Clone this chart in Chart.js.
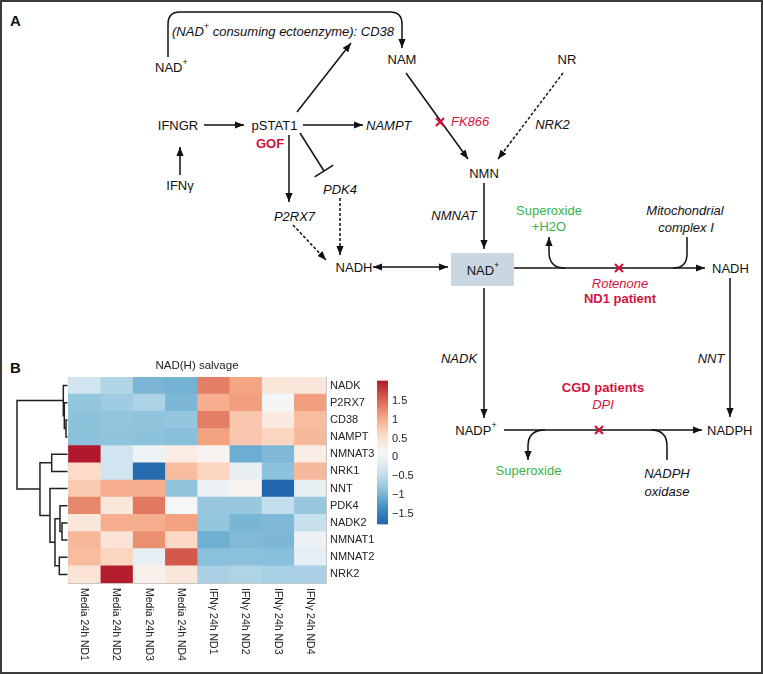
<!DOCTYPE html>
<html><head><meta charset="utf-8">
<script src="https://cdn.jsdelivr.net/npm/chart.js@4.4.1/dist/chart.umd.min.js"></script>
<style>
html,body{margin:0;padding:0;background:#fff;width:763px;height:675px;overflow:hidden;}
#frame{position:absolute;left:0;top:0;width:763px;height:674px;box-sizing:border-box;border:2px solid #3a3a3a;}
canvas{position:absolute;}
svg{position:absolute;left:0;top:0;}
svg text{font-family:"Liberation Sans",Arial,sans-serif;font-size:13px;fill:#111;dominant-baseline:central;}
svg .it{font-style:italic}
svg .red{fill:#d3133f}
svg .grn{fill:#35b34a}
svg .b{font-weight:bold}
svg .lbl{font-size:15px;font-weight:bold}
</style></head>
<body>
<div id="frame"></div>
<svg width="763" height="675">
<defs>
<marker id="ah" viewBox="0 0 10 8" refX="10" refY="4" markerWidth="9" markerHeight="7.2" markerUnits="userSpaceOnUse" orient="auto-start-reverse"><path d="M0,0 L10,4 L0,8 z" fill="#111"/></marker>
</defs>
<g fill="none" stroke="#111" stroke-width="1.5">
<path d="M168,57 V24 Q168,12 180,12 H390 Q402,12 402,24 V48" marker-end="url(#ah)"/>
<line x1="204" y1="125" x2="244" y2="125" marker-end="url(#ah)"/>
<line x1="303" y1="125" x2="363" y2="125" marker-end="url(#ah)"/>
<line x1="297" y1="112" x2="351" y2="43" marker-end="url(#ah)"/>
<line x1="300" y1="133" x2="324" y2="171"/>
<line x1="314.7" y1="176.9" x2="333.3" y2="165.1"/>
<line x1="289" y1="135" x2="289" y2="202" marker-end="url(#ah)"/>
<line x1="293" y1="225" x2="326" y2="260" stroke-dasharray="3,2" marker-end="url(#ah)"/>
<line x1="340" y1="198" x2="340" y2="255" stroke-dasharray="3,2" marker-end="url(#ah)"/>
<line x1="373" y1="267" x2="448" y2="267" marker-start="url(#ah)" marker-end="url(#ah)"/>
<line x1="514" y1="268" x2="705" y2="268" marker-end="url(#ah)"/>
<path d="M565,268 Q549,268 549,252 V237" marker-end="url(#ah)"/>
<path d="M687,237 V254 Q687,268 673,268"/>
<line x1="406" y1="73" x2="468" y2="159" marker-end="url(#ah)"/>
<line x1="563" y1="73" x2="498" y2="159" stroke-dasharray="3,2" marker-end="url(#ah)"/>
<line x1="484" y1="183" x2="484" y2="249" marker-end="url(#ah)"/>
<line x1="484" y1="288" x2="484" y2="418" marker-end="url(#ah)"/>
<line x1="504" y1="430" x2="702" y2="430" marker-end="url(#ah)"/>
<line x1="730" y1="278" x2="730" y2="417" marker-end="url(#ah)"/>
<path d="M545,430 Q528,430 528,446 V460" marker-end="url(#ah)"/>
<path d="M667,460 V446 Q667,430 651,430"/>
<line x1="180" y1="175" x2="180" y2="147" marker-end="url(#ah)"/>
</g>
<g stroke="#d3133f" stroke-width="2.2" fill="none">
<path d="M615,264 L623,272 M623,264 L615,272"/>
<path d="M436,118 L444,126 M444,118 L436,126"/>
<path d="M595,426 L603,434 M603,426 L595,434"/>
</g>
<rect x="451" y="253" width="63" height="33" fill="#c9d7e3"/>
<text class="lbl" x="10" y="20">A</text>
<text class="lbl" x="10" y="367">B</text>
<text class="it" x="172" y="31">(NAD<tspan font-size="9" dy="-5">+</tspan><tspan dy="5"> consuming ectoenzyme): CD38</tspan></text>
<text x="155" y="67">NAD<tspan font-size="9" dy="-5">+</tspan></text>
<text x="402" y="59" text-anchor="middle">NAM</text>
<text x="567" y="59" text-anchor="middle">NR</text>
<text x="178" y="125" text-anchor="middle">IFNGR</text>
<text x="274.5" y="125" text-anchor="middle">pSTAT1</text>
<text class="b red" x="270" y="143" text-anchor="middle">GOF</text>
<text class="it" x="366" y="125">NAMPT</text>
<text class="it" x="340" y="189" text-anchor="middle">PDK4</text>
<text class="it" x="294.5" y="216" text-anchor="middle">P2RX7</text>
<text x="354" y="267" text-anchor="middle">NADH</text>
<text x="483" y="270" text-anchor="middle">NAD<tspan font-size="9" dy="-5">+</tspan></text>
<text class="grn" x="549" y="210" text-anchor="middle">Superoxide</text>
<text class="grn" x="549" y="226" text-anchor="middle">+H2O</text>
<text class="it" x="685" y="210" text-anchor="middle">Mitochondrial</text>
<text class="it" x="686" y="227" text-anchor="middle">complex I</text>
<text x="712" y="268">NADH</text>
<text class="it red" x="620" y="283" text-anchor="middle">Rotenone</text>
<text class="b red" x="620" y="298" text-anchor="middle">ND1 patient</text>
<text class="it red" x="451" y="121">FK866</text>
<text class="it" x="552.5" y="124" text-anchor="middle">NRK2</text>
<text x="484" y="173" text-anchor="middle">NMN</text>
<text class="it" x="454" y="215" text-anchor="middle">NMNAT</text>
<text class="it" x="459" y="358" text-anchor="middle">NADK</text>
<text x="476" y="430" text-anchor="middle">NADP<tspan font-size="9" dy="-5">+</tspan></text>
<text x="707" y="430">NADPH</text>
<text class="it" x="711" y="358" text-anchor="middle">NNT</text>
<text class="b red" x="603" y="387" text-anchor="middle">CGD patients</text>
<text class="it red" x="603" y="404" text-anchor="middle">DPI</text>
<text class="grn" x="528.5" y="470" text-anchor="middle">Superoxide</text>
<text class="it" x="667" y="473" text-anchor="middle">NADPH</text>
<text class="it" x="667" y="491" text-anchor="middle">oxidase</text>
<text x="180" y="185" text-anchor="middle">IFNγ</text>
</svg>
<canvas id="dendro" width="60" height="216" style="left:12px;top:372px;"></canvas>
<canvas id="heat" width="330" height="320" style="left:60px;top:355px;"></canvas>
<canvas id="cbar" width="62" height="165" style="left:370px;top:370px;"></canvas>
<script>
// ---------- data ----------
const heatTitle = 'NAD(H) salvage';
const genes = ['NADK','P2RX7','CD38','NAMPT','NMNAT3','NRK1','NNT','PDK4','NADK2','NMNAT1','NMNAT2','NRK2'];
const samples = ['Media 24h ND1','Media 24h ND2','Media 24h ND3','Media 24h ND4','IFNγ 24h ND1','IFNγ 24h ND2','IFNγ 24h ND3','IFNγ 24h ND4'];
const zNADK   = [-0.35,-0.58,-0.96,-1.00, 1.34, 1.08, 0.42, 0.40];
const zP2RX7  = [-0.82,-0.72,-0.62,-0.95, 1.00, 1.12, 0.08, 1.12];
const zCD38   = [-0.85,-0.82,-0.83,-0.80, 1.35, 0.78, 0.35, 0.88];
const zNAMPT  = [-0.85,-0.83,-0.85,-0.88, 1.10, 0.78, 0.65, 0.90];
const zNMNAT3 = [ 2.03,-0.35, 0.00, 0.33, 0.20,-1.05,-0.93, 0.30];
const zNRK1   = [ 0.60,-0.35,-1.70, 0.88, 0.65,-0.05,-0.85, 0.90];
const zNNT    = [ 0.75, 1.00, 1.00,-0.83,-0.02, 0.20,-1.77,-0.05];
const zPDK4   = [ 1.28, 0.40, 1.38, 0.10,-0.78,-0.78,-0.45,-0.78];
const zNADK2  = [ 0.40, 1.00, 1.00, 1.10,-0.80,-0.97,-0.93,-0.42];
const zNMNAT1 = [ 0.92, 0.45, 1.22, 0.62,-1.03,-0.92,-0.95,-0.02];
const zNMNAT2 = [ 0.88, 0.65,-0.07, 1.60,-0.87,-0.87,-0.88,-0.10];
const zNRK2   = [ 0.45, 2.00, 0.25, 0.40,-0.65,-0.60,-0.66,-0.65];
const heatRows = [zNADK,zP2RX7,zCD38,zNAMPT,zNMNAT3,zNRK1,zNNT,zPDK4,zNADK2,zNMNAT1,zNMNAT2,zNRK2];
const cbMin = -1.77, cbMax = 2.03;
const cbTicks = [-1.5,-1,-0.5,0,0.5,1,1.5];
// dendrogram (rows): leaves 0..11, merge k gets id 12+k
const mergeLeft   = [2, 1, 0, 4, 8, 7, 10, 17, 6, 15, 14];
const mergeRight  = [3, 12, 13, 5, 9, 16, 11, 18, 19, 20, 21];
const mergeHeight = [0.30, 0.63, 0.83, 3.13, 1.09, 1.49, 1.62, 2.48, 3.47, 5.45, 10.0];

// ---------- style ----------
const FONT = '"Liberation Sans", Arial, sans-serif';
Chart.defaults.font.family = FONT;
Chart.defaults.color = '#222';
const palette = ['#2166ac','#4393c3','#92c5de','#d1e5f0','#f7f7f7','#fddbc7','#f4a582','#d6604d','#b2182b'];
function hex2rgb(h){return [1,3,5].map(i=>parseInt(h.substr(i,2),16));}
function colorFor(v){
  let t=(v-cbMin)/(cbMax-cbMin); t=Math.max(0,Math.min(1,t));
  const p=t*(palette.length-1); const i=Math.min(Math.floor(p),palette.length-2); const f=p-i;
  const a=hex2rgb(palette[i]), b=hex2rgb(palette[i+1]);
  const c=a.map((x,k)=>Math.round(x+(b[k]-x)*f));
  return 'rgb('+c.join(',')+')';
}
const gridCol = '#c6c6c6';

// ---------- heatmap ----------
const heatLabels = {
  id:'heatLabels',
  afterDraw(chart){
    const {ctx, chartArea, scales} = chart;
    ctx.save();
    ctx.fillStyle = '#222';
    ctx.font = '10.5px ' + FONT;
    ctx.textAlign = 'left'; ctx.textBaseline = 'middle';
    samples.forEach((s,j)=>{
      const x = scales.x.getPixelForValue(j+0.5);
      ctx.save(); ctx.translate(x, chartArea.bottom+5); ctx.rotate(Math.PI/2); ctx.fillText(s,0,0); ctx.restore();
    });
    ctx.font = '11.5px ' + FONT; ctx.textAlign = 'center';
    ctx.fillText(heatTitle, (chartArea.left+chartArea.right)/2, chartArea.top-11);
    ctx.restore();
  }
};
new Chart(document.getElementById('heat'), {
  type:'bar',
  data:{
    labels: genes,
    datasets: samples.map((s,j)=>({
      label: s,
      data: genes.map(()=>[j, j+1]),
      backgroundColor: heatRows.map(r=>colorFor(r[j])),
      borderWidth: 0, barPercentage: 1, categoryPercentage: 1, grouped: false
    }))
  },
  options:{
    indexAxis:'y', responsive:false, animation:false, devicePixelRatio:1,
    layout:{padding:{left:8,top:22,right:8,bottom:92}},
    plugins:{legend:{display:false}, tooltip:{enabled:false}, title:{display:false}},
    scales:{
      y:{type:'category', position:'right', offset:true, z:1,
         grid:{offset:true, color:gridCol, drawTicks:false},
         border:{color:gridCol},
         ticks:{font:{size:11}, color:'#222', padding:4},
         afterFit:(s)=>{s.width=56;}},
      x:{type:'linear', min:0, max:8, z:1,
         ticks:{display:false, stepSize:1},
         grid:{color:gridCol, drawTicks:false},
         border:{color:gridCol},
         afterFit:(s)=>{s.height=0;}}
    }
  },
  plugins:[heatLabels]
});

// ---------- colour bar ----------
new Chart(document.getElementById('cbar'), {
  type:'bar',
  data:{labels:[''], datasets:[{data:[[cbMin,cbMax]], borderWidth:0, barPercentage:1, categoryPercentage:1,
    backgroundColor:(c)=>{
      const chart=c.chart; const {ctx, chartArea, scales}=chart;
      if(!chartArea) return palette[4];
      const yb=scales.y.getPixelForValue(cbMin), yt=scales.y.getPixelForValue(cbMax);
      const g=ctx.createLinearGradient(0,yb,0,yt);
      palette.forEach((col,k)=>g.addColorStop(k/(palette.length-1),col));
      return g;
    }}]},
  options:{
    responsive:false, animation:false, devicePixelRatio:1,
    layout:{padding:{left:7,top:7,right:4,bottom:10}},
    plugins:{legend:{display:false}, tooltip:{enabled:false}},
    scales:{
      x:{display:false},
      y:{min:cbMin, max:cbMax, position:'right',
         grid:{display:false, drawTicks:false}, border:{display:false},
         afterBuildTicks:(s)=>{s.ticks=cbTicks.map(v=>({value:v}));},
         ticks:{font:{size:11}, color:'#222', padding:4,
           callback:(v)=> v<0 ? '\u2212'+Math.abs(v) : String(v)},
         afterFit:(s)=>{s.width=40;}}
    }
  }
});

// ---------- dendrogram ----------
const nodeY = genes.map((g,i)=>i+0.5);
const nodeH = genes.map(()=>0);
const dendroSets = [];
mergeLeft.forEach((l,k)=>{
  const r = mergeRight[k], h = mergeHeight[k];
  dendroSets.push({
    data:[{x:nodeH[l],y:nodeY[l]},{x:h,y:nodeY[l]},{x:h,y:nodeY[r]},{x:nodeH[r],y:nodeY[r]}],
    showLine:true, pointRadius:0, borderColor:'#222', borderWidth:1.5, tension:0, clip:false
  });
  nodeY.push((nodeY[l]+nodeY[r])/2);
  nodeH.push(h);
});
new Chart(document.getElementById('dendro'), {
  type:'scatter',
  data:{datasets:dendroSets},
  options:{
    responsive:false, animation:false, devicePixelRatio:1,
    layout:{padding:{left:5,right:4.5,top:5,bottom:5}},
    plugins:{legend:{display:false}, tooltip:{enabled:false}},
    scales:{
      x:{type:'linear', min:0, max:10, reverse:true, display:false},
      y:{type:'linear', min:0, max:12, reverse:true, display:false}
    }
  }
});
</script>
</body></html>
